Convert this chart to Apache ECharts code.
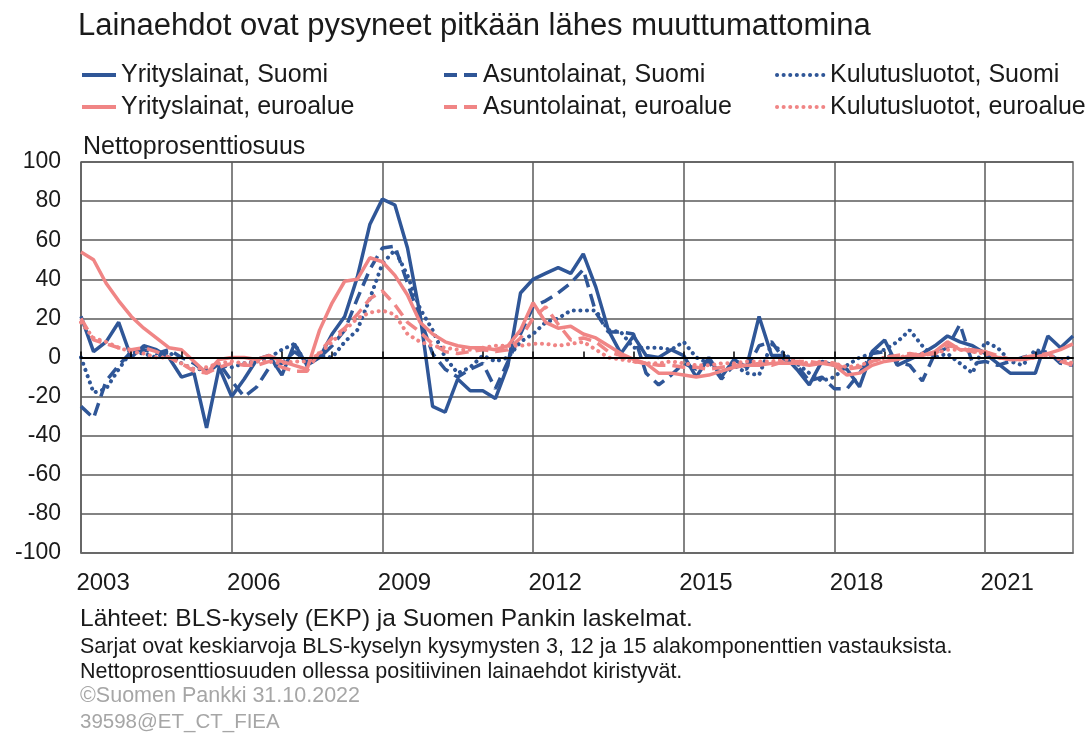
<!DOCTYPE html>
<html lang="fi">
<head>
<meta charset="UTF-8" />
<title>Lainaehdot</title>
<script src="https://cdn.jsdelivr.net/npm/echarts@6/dist/echarts.min.js"></script>
<style>
  html, body { margin: 0; padding: 0; background: #fff; }
  #chart { width: 1085px; height: 735px; }
</style>
</head>
<body>
<div id="chart"></div>
<script>
// neljännekset 2003Q1 - 2022Q4
const quarters = [];
for (let y = 2003; y <= 2022; y++) {
  for (let q = 1; q <= 4; q++) quarters.push(y + "Q" + q);
}
const yearLabels = ["2003", "2006", "2009", "2012", "2015", "2018", "2021"];

// Suomi
const yritysSuomi = [21, 3, 8, 18, 0, 6, 4, 0, -10, -8, -36, -5, -20, -11, -1, 1, -9, 7, -4, 0,
  12, 21, 41, 68, 81, 78, 56, 22, -25, -28, -11, -17, -17, -21, -4, 33, 40, 43, 46, 43,
  53, 36, 14, 2, 11, 1, 0, 4, 1, -10, 0, -10, -1, -5, 21, 1, 1, -6, -14, -2,
  -4, -6, -15, 3, 9, -4, -1, 2, 6, 11, 8, 6, 2, -3, -8, -8, -8, 11, 5, 11];
const asuntoSuomi = [-25, -31, -12, -4, 3, 4, 2, 4, 0, -3, -8, -3, -12, -20, -15, -5, -3, 3, -2, 0,
  6, 14, 30, 45, 56, 57, 38, 20, 2, -6, -10, -6, -3, -16, -2, 12, 26, 29, 33, 38,
  45, 23, 13, 13, 12, -8, -14, -9, -3, -6, -2, -11, -4, -6, 6, 8, -1, -4, -12, -10,
  -16, -16, -8, 2, 3, -2, -4, -12, 2, 5, 17, -3, -2, -4, -2, 0, 2, 3, -3, -4];
const kulutusSuomi = [0, -18, -16, -6, 3, 2, 0, 3, -3, -6, -6, -4, -5, -3, -2, 0, 4, 7, -4, 1,
  0, 8, 14, 30, 48, 55, 42, 25, 14, 0, -8, -5, 1, -2, 0, 8, 12, 18, 20, 24,
  24, 24, 14, 13, 5, 5, 5, 4, 8, 0, -3, -8, -4, -8, -9, 7, 2, -3, -8, -12,
  -10, -4, 0, 2, 4, 8, 14, 6, 0, 2, -3, -8, 8, 5, -2, -4, 4, 2, -2, 1];

// euroalue
const yritysEuro = [54, 50, 38, 29, 21, 15, 10, 5, 4, -2, -8, -1, 0, 0, -1, 1, -2, -4, -6, 14,
  28, 39, 40, 51, 49, 42, 32, 18, 12, 8, 6, 5, 5, 4, 6, 14, 28, 18, 15, 16,
  12, 10, 6, 2, -1, -3, -8, -8, -9, -10, -9, -7, -5, -4, -4, -3, -3, -3, -4, -3,
  -4, -9, -8, -4, -2, -1, 1, 1, 3, 8, 4, 4, 3, 0, -1, -1, 0, 2, 4, 7];
const asuntoEuro = [20, 9, 7, 5, 4, 5, 3, 0, -3, -7, -8, -5, -3, -4, -4, -2, -5, -7, -7, 3,
  10, 15, 22, 30, 34, 27, 18, 13, 7, 3, 2, 3, 4, 3, 4, 10, 20, 26, 17, 9,
  10, 8, 3, 1, -2, -3, -4, -4, -5, -5, -6, -5, -4, -4, -3, -4, -2, -2, -2, -3,
  -3, -6, -5, -2, 0, 1, 2, 1, 2, 6, 5, 3, 3, 1, -1, 0, 1, 2, -2, -4];
const kulutusEuro = [18, 10, 8, 5, 3, 2, 0, 0, -3, -6, -5, -3, -2, -3, -2, -2, -3, -2, -2, 2,
  8, 14, 20, 23, 24, 22, 12, 8, 6, 5, 4, 4, 5, 6, 6, 6, 7, 7, 6, 7,
  8, 4, 0, -1, -2, -3, -3, -2, -3, -4, -4, -3, -3, -2, -2, -2, -1, -2, -3, -2,
  -3, -5, -4, -2, 0, 0, 1, 2, 2, 4, 4, 3, 2, 0, -1, -1, 0, 1, -1, -3];

const BLUE = "#2F5697";
const PINK = "#F08585";
const FONT = "'Liberation Sans', Arial, sans-serif";
const DASH = [13, 7];
const DOT = [0.1, 6.5];

const chart = echarts.init(document.getElementById("chart"));

function lineSeries(name, data, color, type, cap) {
  return {
    name: name,
    type: "line",
    data: data,
    symbol: "none",
    color: color,
    lineStyle: { color: color, width: cap ? 4 : 3.5, type: type, cap: cap || "butt" },
    z: color === PINK ? 4 : 3,
  };
}

const legendText = { fontSize: 25, color: "#1a1a1a", fontFamily: FONT, lineHeight: 26 };
function legendCol(names, left, w) {
  return {
    data: names,
    orient: "vertical", left: left, top: 62, padding: 0,
    itemWidth: w, itemHeight: 14, itemGap: 6,
    selectedMode: false, textStyle: legendText,
    itemStyle: { opacity: 0 },
    lineStyle: { width: 4 },
  };
}

const option = {
  backgroundColor: "#fff",
  animation: false,
  textStyle: { fontFamily: FONT },
  legend: [
    legendCol(["Yrityslainat, Suomi", "Yrityslainat, euroalue"], 80, 34),
    legendCol(["Asuntolainat, Suomi", "Asuntolainat, euroalue"], 442, 34),
    legendCol(["Kulutusluotot, Suomi", "Kulutusluotot, euroalue"], 775, 48),
  ],
  grid: {
    left: 81, right: 12, top: 162, bottom: 182,
    show: true, borderColor: "#6b6b6b", borderWidth: 1.5,
  },
  xAxis: [
    {
      type: "category",
      data: quarters,
      boundaryGap: false,
      axisLine: { onZero: true, lineStyle: { color: "#000", width: 2 } },
      axisTick: { show: true, inside: true, length: 6, interval: (i) => i % 4 === 0, lineStyle: { color: "#000", width: 1.5 } },
      axisLabel: { show: false },
      splitLine: { show: false },
      z: 5,
    },
    {
      type: "category",
      data: quarters,
      boundaryGap: false,
      position: "bottom",
      axisLine: { onZero: false, show: true, lineStyle: { color: "#6b6b6b", width: 1.5 } },
      axisTick: { show: false },
      axisLabel: {
        interval: (i) => i % 12 === 2,
        formatter: (v, i) => yearLabels[Math.floor(i / 12)],
        fontSize: 24, color: "#1a1a1a", fontFamily: FONT, margin: 18,
        padding: [0, 6, 0, 0],
      },
      splitLine: {
        show: true,
        interval: (i) => i % 12 === 0,
        lineStyle: { color: "#5a5a5a", width: 1.5 },
      },
    },
  ],
  yAxis: {
    type: "value",
    min: -100, max: 100, interval: 20,
    axisLine: { show: false },
    axisTick: { show: false },
    axisLabel: { fontSize: 23, color: "#1a1a1a", fontFamily: FONT, margin: 20 },
    splitLine: { show: true, lineStyle: { color: "#5a5a5a", width: 1.5 } },
  },
  series: [
    lineSeries("Yrityslainat, Suomi", yritysSuomi, BLUE, "solid"),
    lineSeries("Asuntolainat, Suomi", asuntoSuomi, BLUE, DASH),
    lineSeries("Kulutusluotot, Suomi", kulutusSuomi, BLUE, DOT, "round"),
    lineSeries("Yrityslainat, euroalue", yritysEuro, PINK, "solid"),
    lineSeries("Asuntolainat, euroalue", asuntoEuro, PINK, DASH),
    lineSeries("Kulutusluotot, euroalue", kulutusEuro, PINK, DOT, "round"),
  ],
  graphic: [
    { type: "text", x: 78, y: 26, style: { text: "Lainaehdot ovat pysyneet pitkään lähes muuttumattomina", font: "31px " + FONT, fill: "#1a1a1a", verticalAlign: "middle" } },
    { type: "text", x: 83, y: 147, style: { text: "Nettoprosenttiosuus", font: "25px " + FONT, fill: "#1a1a1a", verticalAlign: "middle" } },
    { type: "text", x: 80, y: 619, style: { text: "Lähteet: BLS-kysely (EKP) ja Suomen Pankin laskelmat.", font: "24.5px " + FONT, fill: "#1a1a1a", verticalAlign: "middle" } },
    { type: "text", x: 80, y: 647, style: { text: "Sarjat ovat keskiarvoja BLS-kyselyn kysymysten 3, 12 ja 15 alakomponenttien vastauksista.", font: "21.5px " + FONT, fill: "#1a1a1a", verticalAlign: "middle" } },
    { type: "text", x: 80, y: 672, style: { text: "Nettoprosenttiosuuden ollessa positiivinen lainaehdot kiristyvät.", font: "21.5px " + FONT, fill: "#1a1a1a", verticalAlign: "middle" } },
    { type: "text", x: 80, y: 696, style: { text: "©Suomen Pankki 31.10.2022", font: "21.5px " + FONT, fill: "#a6a6a6", verticalAlign: "middle" } },
    { type: "text", x: 80, y: 722, style: { text: "39598@ET_CT_FIEA", font: "20.5px " + FONT, fill: "#a6a6a6", verticalAlign: "middle" } },
  ],
};

chart.setOption(option);
</script>
</body>
</html>
